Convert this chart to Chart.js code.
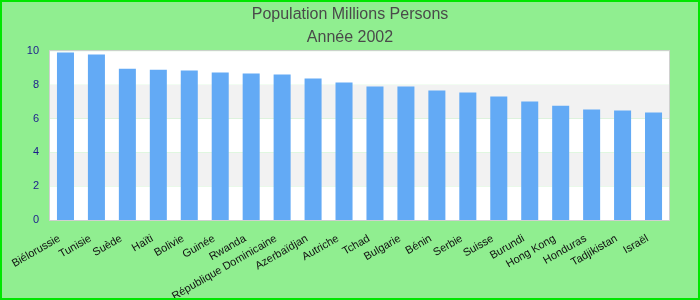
<!DOCTYPE html>
<html>
<head>
<meta charset="utf-8">
<script src="https://cdn.jsdelivr.net/npm/chart.js@4"></script>
<style>
  html, body { margin: 0; padding: 0; background: #90ee90; }
  #wrap { width: 700px; height: 300px; }
</style>
</head>
<body>
<div id="wrap"><canvas id="popChart" width="700" height="300"></canvas></div>
<script>
// Population by country, 2002 (millions)
const countries = ['Biélorussie', 'Tunisie', 'Suède', 'Haïti', 'Bolivie', 'Guinée', 'Rwanda',
  'République Dominicaine', 'Azerbaïdjan', 'Autriche', 'Tchad', 'Bulgarie', 'Bénin', 'Serbie',
  'Suisse', 'Burundi', 'Hong Kong', 'Honduras', 'Tadjikistan', 'Israël'];
const population = [9.92, 9.80, 8.96, 8.90, 8.85, 8.73, 8.67, 8.61, 8.38, 8.14,
  7.90, 7.90, 7.66, 7.55, 7.31, 7.01, 6.77, 6.54, 6.48, 6.36];
const titleLines = ['Population Millions Persons', 'Année 2002'];
const yTicks = { min: 0, max: 10, step: 2 };

// background, alternating bands, plot border, outer border
const frame = {
  id: 'frame',
  beforeDraw(chart) {
    const { ctx, width, height } = chart;
    ctx.save();
    ctx.fillStyle = '#90ee90';
    ctx.fillRect(0, 0, width, height);
    ctx.restore();
  },
  beforeDatasetsDraw(chart) {
    const { ctx, chartArea: a, scales: { y } } = chart;
    ctx.save();
    for (let v = yTicks.min; v < yTicks.max; v += yTicks.step) {
      const band = (v / yTicks.step) % 2;
      ctx.fillStyle = band === 1 ? '#f2f2f2' : '#ffffff';
      const top = y.getPixelForValue(v + yTicks.step);
      const bot = y.getPixelForValue(v);
      ctx.fillRect(a.left, top, a.right - a.left, bot - top);
    }
    ctx.restore();
  },
  afterDraw(chart) {
    const { ctx, chartArea: a, width, height } = chart;
    ctx.save();
    ctx.strokeStyle = '#d0d0d0';
    ctx.lineWidth = 1;
    ctx.strokeRect(a.left - 0.5, a.top - 0.5, a.right - a.left + 1, a.bottom - a.top + 1);
    ctx.strokeStyle = '#00e600';
    ctx.lineWidth = 2;
    ctx.strokeRect(1, 1, width - 2, height - 2);
    ctx.restore();
  }
};

new Chart(document.getElementById('popChart'), {
  type: 'bar',
  data: {
    labels: countries,
    datasets: [{
      label: 'Population',
      data: population,
      backgroundColor: '#63aaf5',
      borderWidth: 0,
      barPercentage: 0.55,
      categoryPercentage: 1
    }]
  },
  options: {
    responsive: false,
    animation: false,
    layout: { padding: { top: 2, right: 0, bottom: 2, left: 0 } },
    plugins: {
      legend: { display: false },
      tooltip: { enabled: false },
      title: {
        display: true,
        text: titleLines,
        color: '#4a4a4a',
        font: { family: "'Liberation Sans', Arial, sans-serif", size: 16, weight: 'normal', lineHeight: 1.44 },
        padding: { top: 1, bottom: 2 }
      }
    },
    scales: {
      x: {
        grid: { display: false, drawTicks: false },
        border: { display: false },
        ticks: {
          color: '#111',
          font: { family: "'Liberation Sans', Arial, sans-serif", size: 11 },
          minRotation: 30,
          maxRotation: 30,
          autoSkip: false,
          labelOffset: -6,
          padding: 12
        },
        afterFit: s => { s.height = 78; }
      },
      y: {
        min: yTicks.min,
        max: yTicks.max,
        grid: { display: false, drawTicks: false },
        border: { display: false },
        ticks: {
          stepSize: yTicks.step,
          color: '#1c1c8c',
          font: { family: "'Liberation Sans', Arial, sans-serif", size: 11 },
          padding: 11
        },
        afterFit: s => { s.width = 50; }
      },
      // empty right gutter so the title centres on the whole canvas
      yRight: {
        position: 'right',
        grid: { display: false, drawTicks: false },
        border: { display: false },
        ticks: { display: false },
        afterFit: s => { s.width = 31; }
      }
    }
  },
  plugins: [frame]
});
</script>
</body>
</html>
